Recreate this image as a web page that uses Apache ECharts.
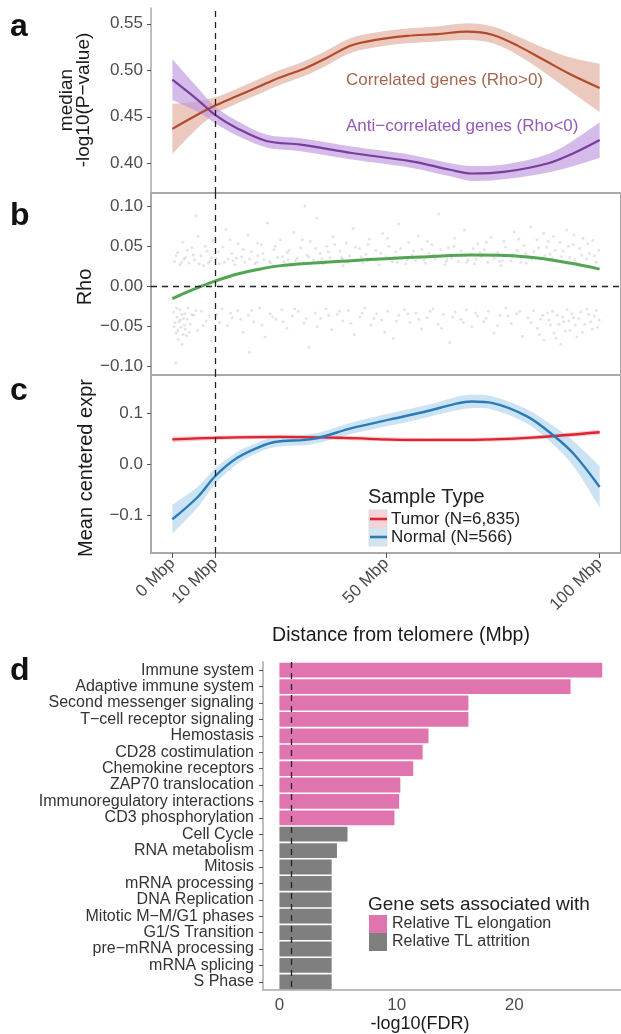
<!DOCTYPE html>
<html>
<head>
<meta charset="utf-8">
<script src="https://cdn.jsdelivr.net/npm/echarts@6/dist/echarts.min.js"></script>
<style>
  html, body { margin: 0; padding: 0; background: #fff; }
  #chart { width: 621px; height: 1034px; }
</style>
</head>
<body>
<div id="chart"></div>
<script>
// ---- Panel a: median -log10(P) along distance from telomere ----
const corrMbp = [0, 5, 10, 15, 20, 25, 31, 36, 42, 48, 55, 62, 69, 75, 81, 87, 93, 100];
const corrMedian = [0.437, 0.450, 0.462, 0.472, 0.482, 0.492, 0.502, 0.513, 0.527, 0.533, 0.537, 0.539, 0.5415, 0.538, 0.526, 0.511, 0.496, 0.481];
const corrSe = [0.027, 0.016, 0.009, 0.008, 0.008, 0.008, 0.008, 0.008, 0.008, 0.008, 0.008, 0.008, 0.009, 0.009, 0.010, 0.013, 0.018, 0.026];

const antiMbp = [0, 6, 10, 15, 22, 30, 42, 56, 65, 70, 78, 88, 94, 100];
const antiMedian = [0.490, 0.468, 0.452, 0.438, 0.424, 0.420, 0.411, 0.402, 0.393, 0.389, 0.391, 0.400, 0.411, 0.425];
const antiSe = [0.022, 0.013, 0.009, 0.008, 0.007, 0.007, 0.007, 0.007, 0.007, 0.008, 0.008, 0.010, 0.014, 0.019];

// ---- Panel b: per-gene Rho and its trend ----
const rhoGenes = [
  [0.5,0.031],[1.2,0.042],[1.8,0.027],[2.4,0.055],[3.1,0.036],[3.9,0.029],[4.6,0.048],[5.2,0.033],[5.5,0.088],[6.0,0.062],
  [6.7,0.038],[7.3,0.026],[8.1,0.044],[8.8,0.031],[9.5,0.057],[10.3,0.035],[11.0,0.028],[11.8,0.049],[12.5,0.071],[13.1,0.034],
  [13.9,0.041],[14.6,0.027],[15.4,0.053],[16.2,0.037],[17.0,0.030],[17.7,0.064],[18.5,0.043],[19.3,0.028],[20.0,0.038],[20.8,0.052],
  [21.5,0.033],[22.3,0.079],[23.0,0.029],[23.8,0.046],[24.6,0.036],[25.3,0.058],[26.1,0.031],[26.9,0.042],[27.6,0.027],[28.4,0.067],
  [29.2,0.035],[30.0,0.048],[30.7,0.030],[31.0,0.100],[31.5,0.039],[32.3,0.056],[33.0,0.033],[33.8,0.085],[34.6,0.041],[35.3,0.028],
  [36.1,0.050],[36.9,0.036],[37.6,0.062],[38.4,0.031],[39.2,0.044],[40.0,0.026],[40.7,0.054],[41.5,0.038],[42.3,0.072],[43.0,0.033],
  [43.8,0.047],[44.6,0.029],[45.3,0.040],[46.1,0.059],[46.9,0.034],[47.6,0.045],[48.4,0.027],[49.2,0.066],[50.0,0.037],[50.7,0.050],
  [51.5,0.031],[52.3,0.043],[53.0,0.078],[53.8,0.035],[54.6,0.028],[55.3,0.055],[56.1,0.039],[56.9,0.032],[57.6,0.063],[58.4,0.046],
  [59.2,0.029],[60.0,0.041],[60.7,0.052],[61.5,0.034],[62.3,0.090],[63.0,0.038],[63.8,0.027],[64.6,0.048],[65.3,0.036],[66.1,0.060],
  [66.9,0.031],[67.6,0.044],[68.4,0.070],[69.2,0.033],[70.0,0.040],[70.7,0.028],[71.5,0.053],[72.3,0.037],[73.0,0.046],[73.8,0.030],
  [74.6,0.061],[75.3,0.035],[76.1,0.042],[76.9,0.026],[77.6,0.056],[78.4,0.039],[79.2,0.032],[80.0,0.068],[80.7,0.045],[81.5,0.030],
  [82.3,0.051],[83.0,0.038],[83.8,0.074],[84.6,0.043],[85.3,0.058],[86.1,0.034],[86.9,0.066],[87.6,0.049],[88.4,0.040],[89.2,0.062],
  [90.0,0.031],[90.7,0.055],[91.5,0.044],[92.3,0.070],[93.0,0.036],[93.8,0.052],[94.6,0.029],[95.3,0.047],[96.1,0.060],[96.9,0.034],
  [97.6,0.041],[98.4,0.057],[99.2,0.030],[99.8,0.045],[2.7,0.034],[8.4,0.029],[14.2,0.032],[19.7,0.030],[27.1,0.033],[34.1,0.031],
  [39.8,0.034],[45.7,0.032],[52.6,0.030],[58.9,0.033],[64.1,0.031],[71.1,0.034],[77.2,0.032],[82.8,0.029],[88.9,0.035],[94.2,0.033],
  [0.9,0.038],[2.1,0.030],[3.5,0.045],[4.9,0.039],[6.3,0.028],[7.7,0.050],[9.2,0.036],[10.8,0.043],[12.2,0.030],[13.5,0.058],
  [15.0,0.035],[16.6,0.046],[18.1,0.034],[19.9,0.054],[21.2,0.041],[22.7,0.031],[24.1,0.050],[25.8,0.037],[27.3,0.045],[28.8,0.032],
  [30.4,0.058],[31.9,0.037],[33.5,0.047],[35.0,0.034],[36.5,0.043],[38.0,0.052],[39.5,0.036],[41.0,0.030],[42.8,0.049],[44.2,0.037],
  [45.8,0.052],[47.2,0.033],[48.8,0.041],[50.3,0.060],[51.9,0.036],[53.4,0.047],[55.0,0.033],[56.5,0.044],[58.0,0.037],[59.7,0.056],
  [61.2,0.039],[62.8,0.046],[64.3,0.034],[65.9,0.050],[67.3,0.038],[68.9,0.030],[70.4,0.047],[72.0,0.042],[73.5,0.055],[75.0,0.039],
  [76.5,0.031],[78.0,0.049],[79.6,0.037],[81.1,0.059],[82.6,0.041],[84.1,0.034],[85.7,0.048],[87.2,0.038],[88.0,0.056],[89.6,0.045],
  [91.1,0.037],[92.7,0.050],[94.0,0.064],[95.8,0.039],[97.2,0.053],[98.8,0.038],
  [0.3,-0.032],[0.6,-0.045],[0.8,-0.095],[0.9,-0.058],[1.1,-0.038],[1.4,-0.066],[1.7,-0.029],[2.0,-0.051],[2.3,-0.072],[2.6,-0.040],
  [2.9,-0.034],[3.3,-0.061],[3.7,-0.027],[4.2,-0.047],[5.0,-0.036],[5.9,-0.055],[6.8,-0.031],[7.9,-0.043],[9.1,-0.068],[10.4,-0.035],
  [11.6,-0.028],[12.9,-0.049],[14.0,-0.039],[15.3,-0.030],[16.5,-0.057],[17.8,-0.036],[18.0,-0.082],[19.0,-0.044],[20.4,-0.027],[21.7,-0.063],
  [22.9,-0.034],[24.2,-0.041],[25.6,-0.029],[26.8,-0.052],[28.1,-0.037],[29.5,-0.031],[30.8,-0.046],[32.0,-0.076],[33.4,-0.033],[34.7,-0.040],
  [36.0,-0.028],[37.3,-0.054],[38.6,-0.035],[39.9,-0.043],[41.2,-0.030],[42.6,-0.060],[43.9,-0.038],[45.1,-0.027],[46.5,-0.048],[47.8,-0.034],
  [49.0,-0.042],[50.4,-0.031],[51.7,-0.065],[53.0,-0.036],[54.3,-0.029],[55.6,-0.045],[57.0,-0.033],[58.3,-0.053],[59.6,-0.039],[61.0,-0.028],
  [62.2,-0.047],[63.5,-0.035],[64.9,-0.070],[66.2,-0.032],[67.5,-0.041],[68.8,-0.029],[70.1,-0.050],[71.4,-0.037],[72.8,-0.044],[74.0,-0.031],
  [75.3,-0.058],[76.7,-0.036],[78.0,-0.027],[79.3,-0.046],[80.6,-0.034],[81.9,-0.062],[83.2,-0.039],[84.5,-0.030],[85.4,-0.052],[86.2,-0.041],
  [87.0,-0.067],[87.8,-0.033],[88.5,-0.048],[89.3,-0.058],[90.1,-0.036],[90.9,-0.072],[91.6,-0.044],[92.4,-0.029],[93.1,-0.055],[93.9,-0.039],
  [94.7,-0.063],[95.6,-0.032],[96.5,-0.047],[97.4,-0.035],[98.3,-0.053],[99.2,-0.030],[99.9,-0.042],[1.5,-0.044],[3.0,-0.053],[4.5,-0.035],
  [0.4,-0.050],[1.0,-0.027],[1.3,-0.055],[1.9,-0.042],[2.2,-0.035],[2.5,-0.060],[2.8,-0.048],[3.5,-0.041],[4.0,-0.057],[5.5,-0.030],
  [7.2,-0.049],[8.6,-0.037],[11.1,-0.045],[13.6,-0.033],[16.0,-0.041],[18.6,-0.030],[21.0,-0.048],[23.5,-0.038],[25.9,-0.044],[28.6,-0.028],
  [31.3,-0.040],[33.9,-0.050],[36.6,-0.036],[39.1,-0.031],[41.8,-0.046],[44.4,-0.033],[47.2,-0.040],[49.7,-0.057],[52.4,-0.043],[55.1,-0.034],
  [57.7,-0.041],[60.3,-0.031],[63.0,-0.052],[65.6,-0.038],[68.1,-0.045],[70.9,-0.033],[73.4,-0.040],[76.1,-0.049],[78.6,-0.037],[81.3,-0.031],
  [84.0,-0.045],[85.9,-0.060],[86.7,-0.036],[88.1,-0.042],[89.0,-0.031],[89.8,-0.065],[90.5,-0.047],[91.3,-0.038],[92.0,-0.056],[92.8,-0.043],
  [93.5,-0.034],[94.3,-0.048],[95.1,-0.040],[96.0,-0.057],[97.0,-0.028],[97.9,-0.044],[98.8,-0.037],[99.5,-0.051]
];
const rhoTrendMbp = [0, 3, 6.7, 10, 15, 20, 25, 33, 42, 50, 60, 70, 78, 86, 93, 100];
const rhoTrend = [-0.0153, -0.008, 0, 0.0065, 0.015, 0.021, 0.0255, 0.029, 0.032, 0.0345, 0.037, 0.039, 0.0385, 0.035, 0.029, 0.0215];

// ---- Panel c: mean centered expression by sample type ----
const tumorMbp = [0, 10, 25, 40, 55, 65, 75, 85, 100];
const tumorExpr = [0.049, 0.052, 0.054, 0.052, 0.048, 0.048, 0.049, 0.053, 0.063];
const tumorSe = [0.005, 0.004, 0.004, 0.004, 0.004, 0.004, 0.004, 0.004, 0.005];

const normalMbp = [0, 6, 10, 15, 20, 24, 33, 42, 51, 60, 66, 70, 75, 83, 89, 94, 100];
const normalExpr = [-0.107, -0.063, -0.023, 0.012, 0.033, 0.044, 0.050, 0.071, 0.088, 0.105, 0.118, 0.123, 0.120, 0.094, 0.058, 0.020, -0.044];
const normalSe = [0.028, 0.020, 0.015, 0.012, 0.010, 0.010, 0.010, 0.011, 0.012, 0.012, 0.013, 0.013, 0.013, 0.014, 0.018, 0.025, 0.040];

// ---- Panel d: enriched gene sets ----
const geneSets = ['Immune system', 'Adaptive immune system', 'Second messenger signaling', 'T\u2212cell receptor signaling',
  'Hemostasis', 'CD28 costimulation', 'Chemokine receptors', 'ZAP70 translocation', 'Immunoregulatory interactions',
  'CD3 phosphorylation', 'Cell Cycle', 'RNA metabolism', 'Mitosis', 'mRNA processing', 'DNA Replication',
  'Mitotic M\u2212M/G1 phases', 'G1/S Transition', 'pre\u2212mRNA processing', 'mRNA splicing', 'S Phase'];
const fdrScore = [27.5, 24.8, 16.1, 16.1, 12.7, 12.2, 11.4, 10.3, 10.2, 9.8, 5.8, 4.9, 4.45, 4.45, 4.45, 4.45, 4.45, 4.45, 4.45, 4.45];
const setGroup = ['elong', 'elong', 'elong', 'elong', 'elong', 'elong', 'elong', 'elong', 'elong', 'elong',
  'attr', 'attr', 'attr', 'attr', 'attr', 'attr', 'attr', 'attr', 'attr', 'attr'];
const groupNames = { elong: 'Relative TL elongation', attr: 'Relative TL attrition' };

// ---- Tick labels ----
const distTicks = [0, 10, 50, 100];
const pvalTicks = [0.40, 0.45, 0.50, 0.55];
const rhoTicks = [-0.10, -0.05, 0, 0.05, 0.10];
const exprTicks = [-0.1, 0, 0.1];
const fdrTicks = [0, 10, 20];

const FONT = '"Liberation Sans", Arial, Helvetica, sans-serif';
const AXIS_GREY = '#a9a9a9';
const TICK_TEXT = '#4d4d4d';
const SMOOTH = 0.35;
const minus = s => s.replace('-', '\u2212');

// Confidence ribbon: one smoothed polygon through the upper edge and back along the lower edge.
// Corner vertices are repeated so the ribbon ends stay square.
function ribbon(xs, mid, se, color, xi) {
  const rows = xs.map((x, i) => [x, mid[i] - se[i], mid[i] + se[i]]);
  return {
    type: 'custom', xAxisIndex: xi, yAxisIndex: xi, silent: true, z: 1, clip: true,
    data: rows, encode: { x: 0, y: [1, 2] },
    renderItem: (params, api) => {
      if (params.dataIndex !== 0) return null;
      const up = rows.map(r => api.coord([r[0], r[2]]));
      const lo = rows.map(r => api.coord([r[0], r[1]])).reverse();
      const pts = [up[0]].concat(up, [up[up.length - 1], lo[0]], lo, [lo[lo.length - 1]]);
      return { type: 'polygon', shape: { points: pts, smooth: SMOOTH }, style: { fill: color } };
    }
  };
}
function trend(xs, ys, color, xi, width, extra) {
  return Object.assign({
    type: 'line', xAxisIndex: xi, yAxisIndex: xi, smooth: SMOOTH, symbol: 'none', silent: true,
    data: xs.map((x, i) => [x, ys[i]]), lineStyle: { color: color, width: width }, z: 3
  }, extra || {});
}
const dashed = { color: '#222', type: [6, 5], width: 1.3 };
function vline(x, more) {
  return {
    silent: true, symbol: ['none', 'none'], label: { show: false }, lineStyle: dashed, animation: false,
    data: [{ xAxis: x }].concat(more || [])
  };
}
function yAxisValue(gi, min, max, ticks, digits) {
  return {
    type: 'value', gridIndex: gi, min: min, max: max, splitLine: { show: false },
    axisLine: { show: gi === 0, onZero: false, lineStyle: { color: AXIS_GREY, width: 1.5 } },
    axisTick: { show: true, customValues: ticks, length: 4, lineStyle: { color: '#555', width: 1 } },
    axisLabel: { customValues: ticks, margin: 8, color: TICK_TEXT, fontSize: 17, fontFamily: FONT,
      formatter: v => minus(v.toFixed(digits)) }
  };
}
function xAxisDist(gi, labelled) {
  return {
    type: 'value', gridIndex: gi, min: -5, max: 105, splitLine: { show: false },
    axisLine: { show: false, onZero: false },
    axisTick: { show: labelled, customValues: distTicks, length: 5, lineStyle: { color: '#555' } },
    axisLabel: labelled ? { customValues: distTicks, rotate: 45, margin: 8, color: TICK_TEXT, fontSize: 17,
      fontFamily: FONT, formatter: v => v + ' Mbp' } : { show: false }
  };
}

const chart = echarts.init(document.getElementById('chart'), null, { renderer: 'canvas' });

const series = [];
// panel a
series.push(ribbon(corrMbp, corrMedian, corrSe, 'rgba(224,172,155,0.65)', 0));
series.push(ribbon(antiMbp, antiMedian, antiSe, 'rgba(190,150,222,0.65)', 0));
series.push(trend(corrMbp, corrMedian, '#b34a2a', 0, 2.2, { markLine: vline(10) }));
series.push(trend(antiMbp, antiMedian, '#7a3d9c', 0, 2.2));
// panel b
series.push({
  type: 'scatter', xAxisIndex: 1, yAxisIndex: 1, data: rhoGenes, symbolSize: 3, silent: true,
  itemStyle: { color: 'rgba(120,125,140,0.26)' }, z: 1
});
series.push(trend(rhoTrendMbp, rhoTrend, '#52a552', 1, 3, { markLine: vline(10, [{ yAxis: 0 }]) }));
// panel c
series.push(ribbon(tumorMbp, tumorExpr, tumorSe, 'rgba(240,165,175,0.6)', 2));
series.push(ribbon(normalMbp, normalExpr, normalSe, 'rgba(170,208,235,0.6)', 2));
series.push(trend(tumorMbp, tumorExpr, '#de2331', 2, 2.4, { name: 'Tumor (N=6,835)' }));
series.push(trend(normalMbp, normalExpr, '#2a7bb8', 2, 2.4, { name: 'Normal (N=566)', markLine: vline(10) }));
// panel d
['elong', 'attr'].forEach((g, gi) => {
  series.push({
    type: 'bar', name: groupNames[g], xAxisIndex: 3, yAxisIndex: 3, stack: 'fdr', barCategoryGap: '10%',
    itemStyle: { color: g === 'elong' ? '#e074ae' : '#7f7f7f' },
    data: fdrScore.map((v, i) => (setGroup[i] === g ? v : '-')),
    markLine: gi === 0 ? vline(1) : undefined, z: 2
  });
});

const txt = (text, x, y, opts) => ({
  type: 'text', x: x, y: y, silent: true,
  rotation: (opts && opts.rotation) || 0,
  style: Object.assign({ text: text, fontFamily: FONT, fontSize: 19, fill: '#1a1a1a',
    textAlign: 'center', textVerticalAlign: 'middle' }, opts && opts.style)
});
const letter = (t, y) => txt(t, 10, y, { style: { fontSize: 32, fontWeight: 'bold', textAlign: 'left', fill: '#111' } });

const graphic = [
  letter('a', 27), letter('b', 216), letter('c', 391), letter('d', 671),
  txt('median', 67, 100, { rotation: Math.PI / 2 }),
  txt('-log10(P\u2212value)', 84, 100, { rotation: Math.PI / 2 }),
  txt('Rho', 85, 287, { rotation: Math.PI / 2, style: { fontSize: 20 } }),
  txt('Mean centered expr', 86, 468, { rotation: Math.PI / 2, style: { fontSize: 20 } }),
  txt('Distance from telomere (Mbp)', 401, 636, { style: { fontSize: 19.5 } }),
  txt('-log10(FDR)', 420, 1024, { style: { fontSize: 18 } }),
  txt('Correlated genes (Rho>0)', 346, 80, { style: { fontSize: 17, textAlign: 'left', fill: '#a5654f' } }),
  txt('Anti\u2212correlated genes (Rho<0)', 346, 126, { style: { fontSize: 17, textAlign: 'left', fill: '#9458b6' } }),
  // sample type key
  txt('Sample Type', 368, 497, { style: { fontSize: 20, textAlign: 'left', fill: '#222' } }),
  { type: 'rect', silent: true, shape: { x: 369, y: 510, width: 18, height: 18 }, style: { fill: '#f5d3d8', stroke: '#dddddd', lineWidth: 1 } },
  { type: 'rect', silent: true, shape: { x: 369, y: 528, width: 18, height: 18 }, style: { fill: '#d3e4f1', stroke: '#dddddd', lineWidth: 1 } },
  { type: 'line', silent: true, shape: { x1: 370, y1: 519, x2: 387, y2: 519 }, style: { stroke: '#de2331', lineWidth: 2.6 } },
  { type: 'line', silent: true, shape: { x1: 370, y1: 537, x2: 387, y2: 537 }, style: { stroke: '#2a7bb8', lineWidth: 2.6 } },
  txt('Tumor (N=6,835)', 391, 519, { style: { fontSize: 17, textAlign: 'left', fill: '#222' } }),
  txt('Normal (N=566)', 391, 537, { style: { fontSize: 17, textAlign: 'left', fill: '#222' } }),
  // gene set key title
  txt('Gene sets associated with', 368, 905, { style: { fontSize: 19, textAlign: 'left', fill: '#222' } })
];

const option = {
  animation: false,
  backgroundColor: '#fff',
  textStyle: { fontFamily: FONT },
  grid: [
    { left: 151, top: 8, width: 479, height: 185 },
    { left: 151, top: 193, width: 479, height: 182, show: true, borderColor: AXIS_GREY, borderWidth: 2, backgroundColor: 'transparent' },
    { left: 151, top: 375, width: 479, height: 178, show: true, borderColor: AXIS_GREY, borderWidth: 2, backgroundColor: 'transparent' },
    { left: 263, top: 662, width: 370, height: 328 }
  ],
  xAxis: [
    xAxisDist(0, false), xAxisDist(1, false), xAxisDist(2, true),
    {
      type: 'value', gridIndex: 3, min: -1.4, max: 29.1, splitLine: { show: false },
      axisLine: { show: true, onZero: false, lineStyle: { color: AXIS_GREY, width: 1.5 } },
      axisTick: { customValues: fdrTicks, length: 4, lineStyle: { color: '#555' } },
      axisLabel: { customValues: fdrTicks, margin: 7, color: TICK_TEXT, fontSize: 17, fontFamily: FONT }
    }
  ],
  yAxis: [
    yAxisValue(0, 0.368, 0.567, pvalTicks, 2),
    yAxisValue(1, -0.1103, 0.1162, rhoTicks, 2),
    yAxisValue(2, -0.1729, 0.1748, exprTicks, 1),
    {
      type: 'category', gridIndex: 3, data: geneSets, inverse: true,
      axisLine: { show: true, onZero: false, lineStyle: { color: AXIS_GREY, width: 1.5 } },
      axisTick: { show: true, alignWithLabel: true, length: 4, lineStyle: { color: '#555' } },
      axisLabel: { interval: 0, margin: 9, color: '#333', fontSize: 16, fontFamily: FONT }
    }
  ],
  legend: {
    data: [groupNames.elong, groupNames.attr], orient: 'vertical', left: 369, top: 915, padding: 0,
    itemWidth: 18, itemHeight: 18, itemGap: 0, icon: 'rect', selectedMode: false,
    textStyle: { fontSize: 16, color: '#333', fontFamily: FONT, lineHeight: 18 }
  },
  series: series,
  graphic: graphic
};
chart.setOption(option);
</script>
</body>
</html>
